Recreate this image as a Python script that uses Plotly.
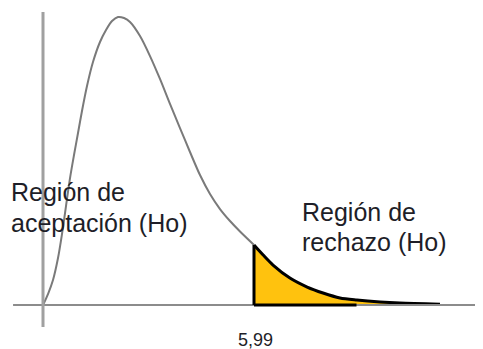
import plotly.graph_objects as go

# courbe : x = valeur chi-carré, y = densité
curve_x = [0.0, 0.142, 0.284, 0.426, 0.539, 0.653, 0.767, 0.880, 0.994, 1.107, 1.249, 1.419,
           1.618, 1.789, 1.959, 2.129, 2.300, 2.470, 2.754, 3.038, 3.321, 3.605, 3.889, 4.173,
           4.457, 4.741, 5.025, 5.309, 5.593, 5.99]
curve_y = [0.0, 0.0095, 0.0217, 0.0408, 0.0616, 0.0859, 0.1102, 0.1302, 0.1493, 0.1684, 0.1901,
           0.2109, 0.2283, 0.2387, 0.2465, 0.25, 0.2491, 0.2457, 0.2335, 0.2161, 0.1962, 0.1745,
           0.1536, 0.1328, 0.1128, 0.0964, 0.0833, 0.0729, 0.0638, 0.0521]

# queue (région de rejet)
tail_x = [5.99, 6.25, 6.53, 7.01, 7.50, 7.95, 8.43, 8.91, 9.57, 10.13, 11.27]
tail_y = [0.0521, 0.0434, 0.0347, 0.0234, 0.0156, 0.0104, 0.0061, 0.0043, 0.0026, 0.0017, 0.0007]

critical = 5.99
critical_label = "5,99"

fig = go.Figure()

# axes dessinés à la main
fig.add_shape(type="line", x0=-0.85, x1=12.8, y0=0, y1=0, line=dict(color="#8c8c8c", width=2))
fig.add_shape(type="line", x0=0, x1=0, y0=-0.019, y1=0.2543, line=dict(color="#a0a0a0", width=3))

# courbe grise
fig.add_trace(go.Scatter(x=curve_x, y=curve_y, mode="lines",
                         line=dict(color="#7a7a7a", width=2, shape="spline", smoothing=0.8),
                         hoverinfo="skip"))

# zone de rejet
fig.add_trace(go.Scatter(x=tail_x, y=tail_y, mode="lines", fill="tozeroy", fillcolor="#FFC20E",
                         line=dict(color="black", width=3, shape="spline", smoothing=0.8),
                         hoverinfo="skip"))
fig.add_shape(type="line", x0=critical, x1=critical, y0=0, y1=tail_y[0],
              line=dict(color="black", width=3))
fig.add_shape(type="line", x0=critical, x1=8.9, y0=0, y1=0, line=dict(color="black", width=3))

txt_font = dict(family="Liberation Sans, Arial", size=25, color="#1e1e28")
labels = [
    (-0.97, 0.0977, "Región de"),
    (-0.97, 0.0716, "aceptación (Ho)"),
    (7.30, 0.0803, "Región de"),
    (7.30, 0.0543, "rechazo (Ho)"),
]
for lx, ly, t in labels:
    fig.add_annotation(x=lx, y=ly, text=t, showarrow=False,
                       xanchor="left", yanchor="middle", align="left", font=txt_font)
fig.add_annotation(x=critical + 0.03, y=-0.0304, text=critical_label, showarrow=False,
                   xanchor="center", yanchor="middle",
                   font=dict(family="Liberation Sans, Arial", size=18, color="#1e1e28"))

# la page ajoute une marge de 8 px : on décale les plages en conséquence
fig.update_layout(
    width=483, height=349,
    margin=dict(l=0, r=0, t=0, b=0),
    paper_bgcolor="white", plot_bgcolor="white",
    showlegend=False,
    xaxis=dict(range=[(8 - 43) / 35.225, (491 - 43) / 35.225], visible=False),
    yaxis=dict(range=[(305 - 357) / 1152, (305 - 8) / 1152], visible=False),
)

fig.write_html("out.html")
